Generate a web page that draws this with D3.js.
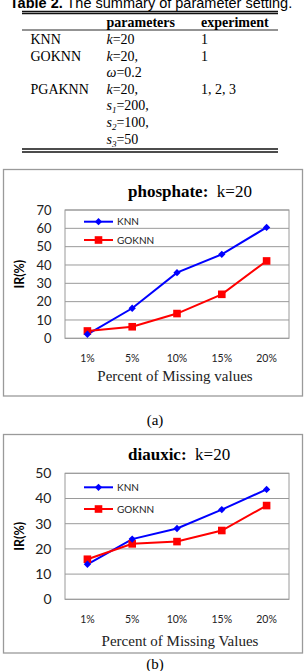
<!DOCTYPE html>
<html>
<head>
<meta charset="utf-8">
<script src="https://cdn.jsdelivr.net/npm/d3@7"></script>
<style>
  body { margin: 0; background: #fff; }
  svg { display: block; }
</style>
</head>
<body>
<svg id="page" width="308" height="671"></svg>
<script>
// ----------------------
// Data
// ----------------------
const categories = ["1%", "5%", "10%", "15%", "20%"];

const phosphateKNN = [2.2, 16.4, 35.8, 45.8, 60.5];
const phosphateGOKNN = [4.0, 6.3, 13.5, 24.0, 42.2];
const phosphateTicks = [0, 10, 20, 30, 40, 50, 60, 70];

const diauxicKNN = [13.9, 23.9, 28.1, 35.6, 43.6];
const diauxicGOKNN = [15.9, 22.0, 22.9, 27.3, 37.2];
const diauxicTicks = [0, 10, 20, 30, 40, 50];

const seriesNames = ["KNN", "GOKNN"];

// table rows: [method, parameter lines, experiment]
const tableRows = [
    ["KNN", [["k", "=20"]], "1"],
    ["GOKNN", [["k", "=20,"], ["ω", "=0.2"]], "1"],
    ["PGAKNN", [["k", "=20,"], ["s", "=200,", "1"], ["s", "=100,", "2"], ["s", "=50", "3"]], "1, 2, 3"]
];

const svg = d3.select("#page");
const serif = "'Liberation Serif', 'Times New Roman', serif";
const sans = "Lato, 'Open Sans', sans-serif";

// ----------------------
// Table
// ----------------------
svg.append("text")
    .attr("x", 151).attr("y", 7.5)
    .attr("text-anchor", "middle")
    .style("font-family", "'Liberation Sans', Arial, sans-serif")
    .style("font-size", "14.5px")
    .html('<tspan font-weight="bold">Table 2.</tspan> The summary of parameter setting.');

function hline(y, w) {
    svg.append("line")
        .attr("x1", 22).attr("x2", 278)
        .attr("y1", y).attr("y2", y)
        .attr("stroke", "#111").attr("stroke-width", w);
}
hline(11.5, 1.4);
hline(13.5, 1.4);
hline(30, 0.9);
hline(149, 1.4);
hline(152, 1.4);

svg.append("text").attr("x", 106.5).attr("y", 26.5)
    .style("font-family", serif).style("font-size", "14px").style("font-weight", "bold")
    .text("parameters");
svg.append("text").attr("x", 201).attr("y", 26.5)
    .style("font-family", serif).style("font-size", "14px").style("font-weight", "bold")
    .text("experiment");

let rowY = 44;
tableRows.forEach(r => {
    svg.append("text").attr("x", 30.5).attr("y", rowY)
        .style("font-family", serif).style("font-size", "14px")
        .text(r[0]);
    svg.append("text").attr("x", 201).attr("y", rowY)
        .style("font-family", serif).style("font-size", "14px")
        .text(r[2]);
    r[1].forEach(p => {
        const t = svg.append("text").attr("x", 106.5).attr("y", rowY)
            .style("font-family", serif).style("font-size", "14px");
        t.append("tspan").style("font-style", "italic").text(p[0]);
        if (p[2]) {
            t.append("tspan").attr("dy", 3).style("font-size", "9px").style("font-style", "italic").text(p[2]);
            t.append("tspan").attr("dy", -3).text(p[1]);
        } else {
            t.append("tspan").text(p[1]);
        }
        rowY += 16.6;
    });
});

// ----------------------
// Line chart
// ----------------------
function drawChart(o) {
    const g = svg.append("g");

    // outer frame
    g.append("rect")
        .attr("x", 3.5).attr("y", o.boxTop)
        .attr("width", 299).attr("height", o.boxBottom - o.boxTop)
        .attr("fill", "none").attr("stroke", "#9a9a9a").attr("stroke-width", 1.3);

    const x = d3.scalePoint().domain(categories).range([65, 289]).padding(0.5);
    const y = d3.scaleLinear().domain([0, d3.max(o.ticks)]).range([o.plotBottom, o.plotTop]);

    // gridlines
    g.selectAll(".grid")
        .data(o.ticks)
        .enter()
        .append("line")
        .attr("x1", 65).attr("x2", 289)
        .attr("y1", d => y(d)).attr("y2", d => y(d))
        .attr("stroke", "#9a9a9a").attr("stroke-width", 1);

    g.append("rect")
        .attr("x", 65).attr("y", o.plotTop)
        .attr("width", 224).attr("height", o.plotBottom - o.plotTop)
        .attr("fill", "none").attr("stroke", "#9a9a9a").attr("stroke-width", 1);

    // y ticks
    g.selectAll(".ytick")
        .data(o.ticks)
        .enter()
        .append("text")
        .attr("x", 51.5).attr("y", d => y(d))
        .attr("dy", "0.35em")
        .attr("text-anchor", "end")
        .style("font-family", sans).style("font-size", o.yFont + "px")
        .attr("fill", "#222")
        .text(d => d);

    // x ticks
    g.selectAll(".xtick")
        .data(categories)
        .enter()
        .append("text")
        .attr("x", d => x(d)).attr("y", o.xTickY)
        .attr("text-anchor", "middle")
        .style("font-family", sans).style("font-size", "10.5px")
        .attr("fill", "#222")
        .text(d => d);

    // y label
    g.append("text")
        .attr("transform", `translate(24, ${(o.plotTop + o.plotBottom) / 2}) rotate(-90)`)
        .attr("text-anchor", "middle")
        .style("font-family", sans).style("font-size", "12.5px").style("font-weight", "bold")
        .text("IR(%)");

    // x label
    g.append("text")
        .attr("x", o.xLabelX).attr("y", o.xLabelY)
        .attr("text-anchor", "middle")
        .style("font-family", serif).style("font-size", "15px")
        .attr("fill", "#222")
        .text(o.xLabel);

    // title
    const t = g.append("text")
        .attr("x", 128).attr("y", o.titleY)
        .style("font-family", serif).style("font-size", "17px");
    t.append("tspan").style("font-weight", "bold").text(o.title);
    t.append("tspan").text("\u00a0 k=20");

    // series
    const line = d3.line()
        .x((d, i) => x(categories[i]))
        .y(d => y(d));

    const colors = ["#0000ff", "#ff0000"];
    [o.knn, o.goknn].forEach((vals, si) => {
        g.append("path")
            .datum(vals)
            .attr("d", line)
            .attr("fill", "none")
            .attr("stroke", colors[si])
            .attr("stroke-width", 2);
    });

    // markers: GOKNN squares, KNN diamonds on top
    g.selectAll(".sq")
        .data(o.goknn)
        .enter()
        .append("rect")
        .attr("x", (d, i) => x(categories[i]) - 3.8)
        .attr("y", d => y(d) - 3.8)
        .attr("width", 7.6).attr("height", 7.6)
        .attr("fill", "#ff0000");

    g.selectAll(".dm")
        .data(o.knn)
        .enter()
        .append("path")
        .attr("d", d3.symbol(d3.symbolDiamond2, 34))
        .attr("transform", (d, i) => `translate(${x(categories[i])}, ${y(d)})`)
        .attr("fill", "#0000ff");

    // legend
    seriesNames.forEach((name, si) => {
        const ly = o.legendY[si];
        g.append("line")
            .attr("x1", 84).attr("x2", 113)
            .attr("y1", ly).attr("y2", ly)
            .attr("stroke", colors[si]).attr("stroke-width", 2);
        if (si === 0) {
            g.append("path")
                .attr("d", d3.symbol(d3.symbolDiamond2, 34))
                .attr("transform", `translate(98.5, ${ly})`)
                .attr("fill", colors[si]);
        } else {
            g.append("rect")
                .attr("x", 94.7).attr("y", ly - 3.8)
                .attr("width", 7.6).attr("height", 7.6)
                .attr("fill", colors[si]);
        }
        g.append("text")
            .attr("x", 117).attr("y", ly)
            .attr("dy", "0.35em")
            .style("font-family", sans).style("font-size", "10px")
            .attr("fill", "#222")
            .text(name);
    });

    // caption
    svg.append("text")
        .attr("x", 155).attr("y", o.captionY)
        .attr("text-anchor", "middle")
        .style("font-family", serif).style("font-size", "15px")
        .text(o.caption);
}

drawChart({
    boxTop: 169.5, boxBottom: 396,
    plotTop: 210, plotBottom: 338.3,
    ticks: phosphateTicks, yFont: 13,
    knn: phosphateKNN, goknn: phosphateGOKNN,
    title: "phosphate:", titleY: 197,
    xTickY: 362, xLabel: "Percent of Missing values", xLabelX: 175, xLabelY: 381,
    legendY: [221.7, 240],
    caption: "(a)", captionY: 425
});

drawChart({
    boxTop: 434.5, boxBottom: 653,
    plotTop: 473.3, plotBottom: 599.3,
    ticks: diauxicTicks, yFont: 14,
    knn: diauxicKNN, goknn: diauxicGOKNN,
    title: "diauxic:", titleY: 460,
    xTickY: 623, xLabel: "Percent of Missing Values", xLabelX: 180, xLabelY: 646,
    legendY: [487.3, 509],
    caption: "(b)", captionY: 669
});
</script>
</body>
</html>
